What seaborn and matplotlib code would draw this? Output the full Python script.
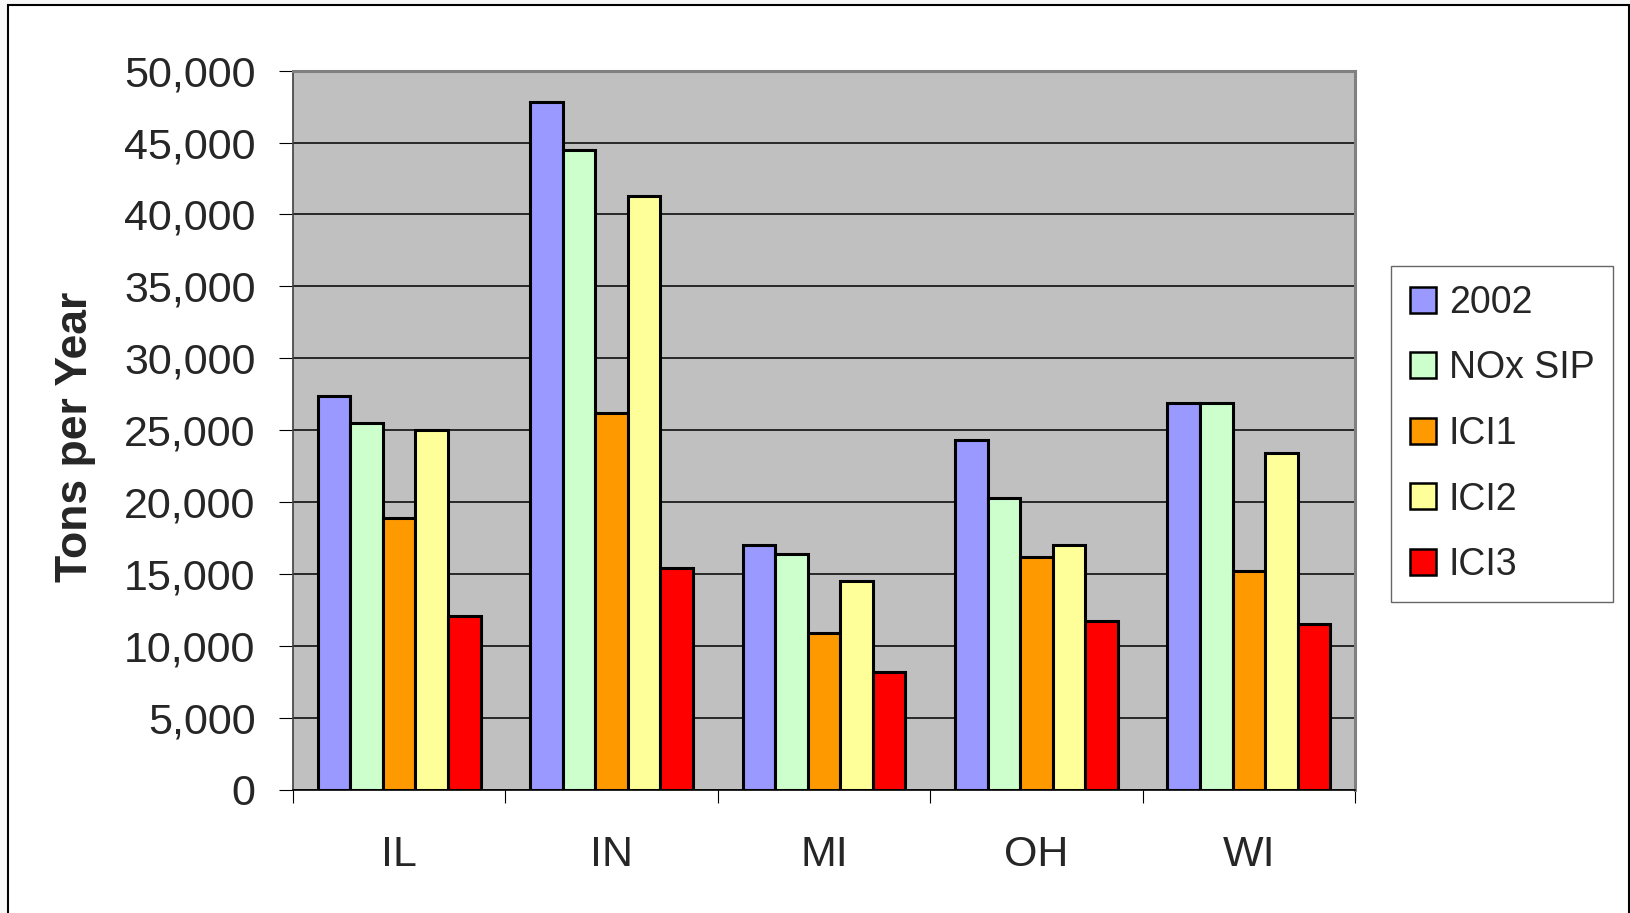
import matplotlib
matplotlib.use("Agg")
import matplotlib.pyplot as plt
import matplotlib.ticker as mticker
from matplotlib.patches import Rectangle
import numpy as np
import pandas as pd
import seaborn as sns

# Emissions by state and control scenario (tons per year)
states = ["IL", "IN", "MI", "OH", "WI"]
scenarios = ["2002", "NOx SIP", "ICI1", "ICI2", "ICI3"]
tons_2002 = [27400, 47800, 17000, 24300, 26900]
tons_nox_sip = [25500, 44500, 16400, 20300, 26900]
tons_ici1 = [18900, 26200, 10900, 16200, 15200]
tons_ici2 = [25000, 41300, 14500, 17000, 23400]
tons_ici3 = [12100, 15400, 8200, 11700, 11500]
colors = ["#9999FF", "#CCFFCC", "#FF9900", "#FFFF99", "#FF0000"]

series = [tons_2002, tons_nox_sip, tons_ici1, tons_ici2, tons_ici3]
df = pd.DataFrame(
    [(st, sc, v) for sc, vals in zip(scenarios, series) for st, v in zip(states, vals)],
    columns=["state", "scenario", "tons"],
)

sns.set_theme(style="white")
plt.rcParams["font.family"] = ["Liberation Sans", "DejaVu Sans"]

W, H = 1631, 913
fig = plt.figure(figsize=(W / 100, H / 100), dpi=100, facecolor="#f7f7f7")

# White chart area with a thin black frame
fig.patches.append(Rectangle((8 / W, -0.05), (1629 - 8) / W, 1.05 - 5 / H,
                             transform=fig.transFigure, facecolor="white",
                             edgecolor="black", linewidth=1.5, zorder=-10))

left, right, top, bottom = 293, 1355, 70.7, 789.5
ax = fig.add_axes([left / W, 1 - bottom / H, (right - left) / W, (bottom - top) / H])
ax.set_facecolor("#C0C0C0")

sns.barplot(data=df, x="state", y="tons", hue="scenario", order=states,
            hue_order=scenarios, palette=colors, saturation=1, width=0.767,
            edgecolor="black", linewidth=2.2, ax=ax, zorder=3)

ax.set_ylim(0, 50000)
ax.set_xlim(-0.5, len(states) - 0.5)
ax.yaxis.set_major_locator(mticker.MultipleLocator(5000))
ax.yaxis.set_major_formatter(mticker.StrMethodFormatter("{x:,.0f}"))
ax.yaxis.grid(True, color="black", linewidth=1.1, zorder=0)
ax.set_axisbelow(True)

# Category boundaries carry tick marks; labels sit at the centres
ax.set_xticks(np.arange(len(states) + 1) - 0.5)
ax.set_xticklabels([])
ax.set_xticks(np.arange(len(states)), minor=True)
ax.set_xticklabels(states, minor=True)
ax.tick_params(axis="x", which="major", direction="out", length=9.5, width=0.8,
               color="black", bottom=True)
ax.tick_params(axis="x", which="minor", length=0, pad=33, labelsize=31)
ax.tick_params(axis="y", which="major", direction="out", length=10, width=0.8,
               color="black", left=True, pad=17, labelsize=31)

ax.set_xlabel("")
ax.set_ylabel("Tons per Year", fontsize=32, fontweight="bold")
ax.yaxis.set_label_coords((96 - left) / (right - left), (bottom - 437) / (bottom - top))

for side in ["top", "right"]:
    ax.spines[side].set_visible(True)
    ax.spines[side].set_color("#808080")
    ax.spines[side].set_linewidth(2.2)
ax.spines["left"].set_color("#404040")
ax.spines["left"].set_linewidth(1.2)
ax.spines["bottom"].set_color("black")
ax.spines["bottom"].set_linewidth(1.2)

handles, labels = ax.get_legend_handles_labels()
if ax.get_legend() is not None:
    ax.get_legend().remove()
leg = fig.legend(handles, labels, loc="upper left",
                 bbox_to_anchor=(1391 / W, 1 - 266 / H),
                 bbox_transform=fig.transFigure, fontsize=27,
                 frameon=True, fancybox=False, shadow=False,
                 handlelength=0.69, handleheight=0.69, handletextpad=0.35,
                 labelspacing=0.79, borderpad=0.5, borderaxespad=0)
leg.get_frame().set_edgecolor("#404040")
leg.get_frame().set_linewidth(1.0)
leg.get_frame().set_facecolor("white")
for h in leg.legend_handles:
    h.set_edgecolor("black")
    h.set_linewidth(1.8)

fig.savefig("out.png", dpi=100, facecolor=fig.get_facecolor())
